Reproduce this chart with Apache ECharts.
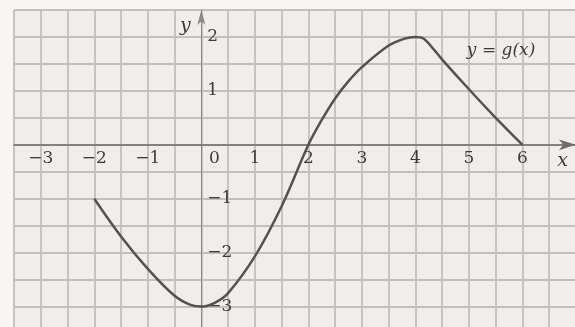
<!DOCTYPE html>
<html><head><meta charset="utf-8">
<script src="https://cdn.jsdelivr.net/npm/echarts@6/dist/echarts.min.js"></script>
<style>html,body{margin:0;padding:0;background:#f7f6f5;}#c{width:575px;height:327px;}</style>
</head><body><div id="c"></div>
<script>
// curve y = g(x)
const xs = [-2, -1.5, -1, -0.5, -0.2, 0, 0.25, 0.5, 1, 1.5, 2, 2.25, 2.5, 2.75, 3, 3.5, 3.8, 4.0, 4.15, 4.35, 4.5, 5, 5.5, 6];
const ys = [-1, -1.7, -2.3, -2.8, -2.97, -3, -2.93, -2.75, -2.07, -1.14, 0, 0.46, 0.86, 1.18, 1.44, 1.84, 1.97, 2.0, 1.97, 1.76, 1.58, 1.03, 0.5, 0];
const xTickLabels = [-3, -2, -1, 0, 1, 2, 3, 4, 5, 6];
const yTickLabels = [-3, -2, -1, 1, 2];
const curveLabel = 'y = g(x)';

const minus = v => (v < 0 ? '\u2212' + Math.abs(v) : String(v));
const font = 'DejaVu Serif';
const txt = '#3d3a3a';
const X_MIN = -3.5, X_MAX = 7, Y_MIN = -3.5, Y_MAX = 2.5;
const G = { left: 14, top: 10, width: 562, height: 323.5 };
// axis offsets so the axes sit on the zero lines (computed from the grid scale)
const xZeroPix = G.top + G.height * (Y_MAX - 0) / (Y_MAX - Y_MIN);
const yZeroPix = G.left + G.width * (0 - X_MIN) / (X_MAX - X_MIN);
const chart = echarts.init(document.getElementById('c'));
chart.setOption({
  backgroundColor: '#f7f6f5',
  animation: false,
  grid: Object.assign({ show: true, backgroundColor: '#f1edeb', borderWidth: 0, outerBoundsMode: 'none', containLabel: false }, G),
  xAxis: {
    type: 'value', min: X_MIN, max: X_MAX, interval: 0.5, position: 'bottom',
    offset: -(G.top + G.height - xZeroPix),
    axisLine: { onZero: false, lineStyle: { color: '#6f6c6b', width: 1.5 }, symbol: ['none', 'arrow'], symbolSize: [8, 17] },
    axisTick: { show: false },
    splitLine: { show: true, lineStyle: { color: '#c3bfbe', width: 1.8 } },
    axisLabel: {
      margin: 5, fontFamily: font, fontSize: 17, color: txt, showMinLabel: true, showMaxLabel: true,
      formatter: v => (Number.isInteger(v) && xTickLabels.includes(v)) ? (v === 0 ? '{z|0}' : minus(v)) : '',
      rich: { z: { fontFamily: font, fontSize: 17, color: txt, padding: [0, 0, 0, 26] } }
    }
  },
  yAxis: {
    type: 'value', min: Y_MIN, max: Y_MAX, interval: 0.5, position: 'left',
    offset: -(yZeroPix - G.left),
    axisLine: { onZero: false, lineStyle: { color: '#8a8786', width: 1 }, symbol: ['none', 'arrow'], symbolSize: [6, 15] },
    axisTick: { show: false },
    splitLine: { show: true, lineStyle: { color: '#c3bfbe', width: 1.8 } },
    axisLabel: {
      inside: true, margin: 6, fontFamily: font, fontSize: 17, color: txt,
      formatter: v => (Number.isInteger(v) && yTickLabels.includes(v)) ? minus(v) : ''
    }
  },
  series: [{
    type: 'line', data: xs.map((x, i) => [x, ys[i]]), smooth: 0.35, symbol: 'none',
    lineStyle: { color: '#555152', width: 2.5 }
  }]
});
const p = (x, y) => chart.convertToPixel({ gridIndex: 0 }, [x, y]);
const px = p(6.75, -0.3), py = p(-0.3, 2.2), pg = p(5.6, 1.74);
chart.setOption({
  graphic: [
    { type: 'text', x: px[0], y: px[1], style: { text: 'x', font: 'italic 19px "DejaVu Serif"', fill: txt, align: 'center', verticalAlign: 'middle' } },
    { type: 'text', x: py[0], y: py[1], style: { text: 'y', font: 'italic 19px "DejaVu Serif"', fill: txt, align: 'center', verticalAlign: 'middle' } },
    { type: 'text', x: pg[0], y: pg[1], style: { text: curveLabel, font: 'italic 17px "DejaVu Serif"', fill: txt, align: 'center', verticalAlign: 'middle' } }
  ]
});
</script></body></html>
